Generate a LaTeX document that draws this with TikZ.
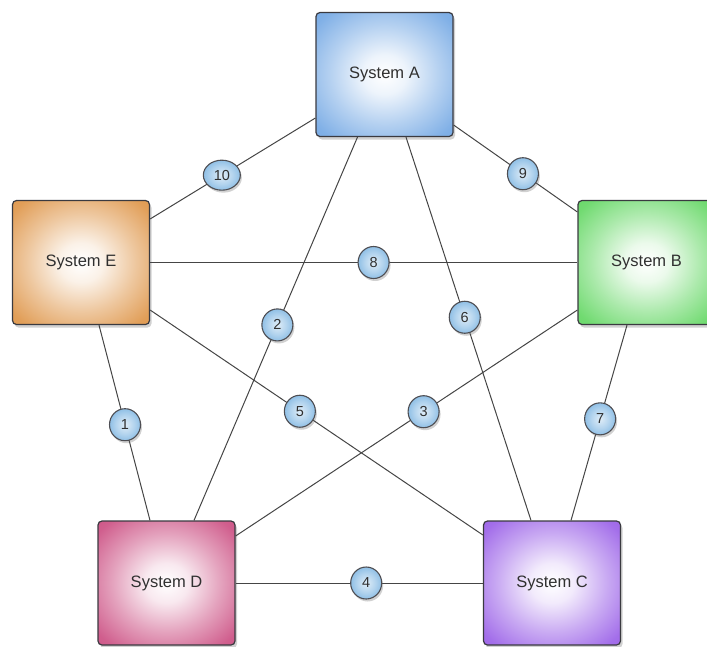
\documentclass[tikz,border=0pt]{standalone}
\usepackage{fontspec}
\setmainfont{Liberation Sans}
\usetikzlibrary{calc,shadows,shapes.geometric}
\definecolor{lineC}{HTML}{454545}
\definecolor{borderC}{HTML}{3A3A40}
\definecolor{txtC}{HTML}{303030}
\definecolor{aEdge}{HTML}{6AA2E2}
\definecolor{eEdge}{HTML}{DC8E3C}
\definecolor{bEdge}{HTML}{58D458}
\definecolor{dEdge}{HTML}{C8437A}
\definecolor{cEdge}{HTML}{9355E6}
\definecolor{bubEdge}{HTML}{7FB6E2}
\colorlet{aIn}{aEdge!12!white}\colorlet{aMid}{aEdge!50!white}\colorlet{aOut}{aEdge!85!white}
\colorlet{eIn}{eEdge!12!white}\colorlet{eMid}{eEdge!50!white}\colorlet{eOut}{eEdge!85!white}
\colorlet{bIn}{bEdge!12!white}\colorlet{bMid}{bEdge!50!white}\colorlet{bOut}{bEdge!85!white}
\colorlet{dIn}{dEdge!12!white}\colorlet{dMid}{dEdge!50!white}\colorlet{dOut}{dEdge!85!white}
\colorlet{cIn}{cEdge!12!white}\colorlet{cMid}{cEdge!50!white}\colorlet{cOut}{cEdge!85!white}
\colorlet{bubIn}{bubEdge!25!white}\colorlet{bubMid}{bubEdge!60!white}
\pgfdeclareradialshading{shA}{\pgfpoint{0bp}{0bp}}{color(0bp)=(white); color(8bp)=(aIn); color(20bp)=(aMid); color(32bp)=(aOut); color(45bp)=(aEdge); color(50bp)=(aEdge)}
\pgfdeclareradialshading{shE}{\pgfpoint{0bp}{0bp}}{color(0bp)=(white); color(8bp)=(eIn); color(20bp)=(eMid); color(32bp)=(eOut); color(45bp)=(eEdge); color(50bp)=(eEdge)}
\pgfdeclareradialshading{shB}{\pgfpoint{0bp}{0bp}}{color(0bp)=(white); color(8bp)=(bIn); color(20bp)=(bMid); color(32bp)=(bOut); color(45bp)=(bEdge); color(50bp)=(bEdge)}
\pgfdeclareradialshading{shD}{\pgfpoint{0bp}{0bp}}{color(0bp)=(white); color(8bp)=(dIn); color(20bp)=(dMid); color(32bp)=(dOut); color(45bp)=(dEdge); color(50bp)=(dEdge)}
\pgfdeclareradialshading{shC}{\pgfpoint{0bp}{0bp}}{color(0bp)=(white); color(8bp)=(cIn); color(20bp)=(cMid); color(32bp)=(cOut); color(45bp)=(cEdge); color(50bp)=(cEdge)}
\pgfdeclareradialshading{shBub}{\pgfpoint{0bp}{0bp}}{color(0bp)=(bubIn); color(15bp)=(bubMid); color(30bp)=(bubEdge); color(50bp)=(bubEdge)}
\tikzset{
  sysbox/.style={rectangle, rounded corners=4pt, draw=borderC, line width=1.2pt,
    minimum width=137pt, minimum height=124pt,
    text=txtC, font=\fontsize{16.5}{19}\selectfont,
    drop shadow={shadow xshift=2pt, shadow yshift=-3pt, opacity=0.3, fill=black!60}},
  bubble/.style={ellipse, draw=borderC!90, line width=1.1pt, inner sep=0pt,
    minimum width=31pt, minimum height=32pt, shading=shBub,
    text=txtC, font=\fontsize{14.5}{16}\selectfont,
    drop shadow={shadow xshift=1.5pt, shadow yshift=-2.5pt, opacity=0.3, fill=black!60}},
  link/.style={draw=lineC, line width=1pt}
}
\begin{document}
\begin{tikzpicture}[x=1pt,y=-1pt]
\useasboundingbox (0,0) rectangle (707,646);
% boxes
\node[sysbox, shading=shA] (A) at (384.5,74.5) {System A};
\node[sysbox, shading=shE] (E) at (81,262.5) {System E};
\node[sysbox, shading=shB] (B) at (646.5,262.5) {System B};
\node[sysbox, shading=shD] (D) at (166.5,583) {System D};
\node[sysbox, shading=shC] (C) at (552,583) {System C};
% connector end points
\coordinate (a10) at ([yshift=-43.5pt]A.west);
\coordinate (a9)  at ([yshift=-50.5pt]A.east);
\coordinate (a2)  at ([xshift=-27pt]A.south);
\coordinate (a6)  at ([xshift=21.5pt]A.south);
\coordinate (e10) at ([yshift=43.5pt]E.east);
\coordinate (e8)  at (E.east);
\coordinate (e5)  at ([yshift=-47.5pt]E.east);
\coordinate (e1)  at ([xshift=18pt]E.south);
\coordinate (b9)  at ([yshift=50.5pt]B.west);
\coordinate (b8)  at (B.west);
\coordinate (b3)  at ([yshift=-47.5pt]B.west);
\coordinate (b7)  at ([xshift=-19.5pt]B.south);
\coordinate (d1)  at ([xshift=-16.5pt]D.north);
\coordinate (d2)  at ([xshift=27.5pt]D.north);
\coordinate (d3)  at ([yshift=47pt]D.east);
\coordinate (d4)  at (D.east);
\coordinate (c5)  at ([yshift=48pt]C.west);
\coordinate (c6)  at ([xshift=-21pt]C.north);
\coordinate (c7)  at ([xshift=19pt]C.north);
\coordinate (c4)  at (C.west);
% connectors
\draw[link] (a10) -- (e10);
\draw[link] (a9) -- (b9);
\draw[link] (e8) -- (b8);
\draw[link] (a2) -- (d2);
\draw[link] (a6) -- (c6);
\draw[link] (e5) -- (c5);
\draw[link] (b3) -- (d3);
\draw[link] (e1) -- (d1);
\draw[link] (b7) -- (c7);
\draw[link] (d4) -- (c4);
% bubbles
\node[bubble, minimum width=37pt, minimum height=30pt] (n10) at ($(a10)!0.566!(e10)$) {10};
\node[bubble] (n9) at ($(a9)!0.56!(b9)$) {9};
\node[bubble] (n8) at ($(e8)!0.523!(b8)$) {8};
\node[bubble] (n2) at ($(a2)!0.49!(d2)$) {2};
\node[bubble] (n6) at ($(a6)!0.47!(c6)$) {6};
\node[bubble] (n5) at ($(e5)!0.45!(c5)$) {5};
\node[bubble] (n3) at ($(b3)!0.45!(d3)$) {3};
\node[bubble] (n1) at ($(e1)!0.51!(d1)$) {1};
\node[bubble] (n7) at ($(b7)!0.48!(c7)$) {7};
\node[bubble] (n4) at ($(d4)!0.528!(c4)$) {4};
\end{tikzpicture}
\end{document}
